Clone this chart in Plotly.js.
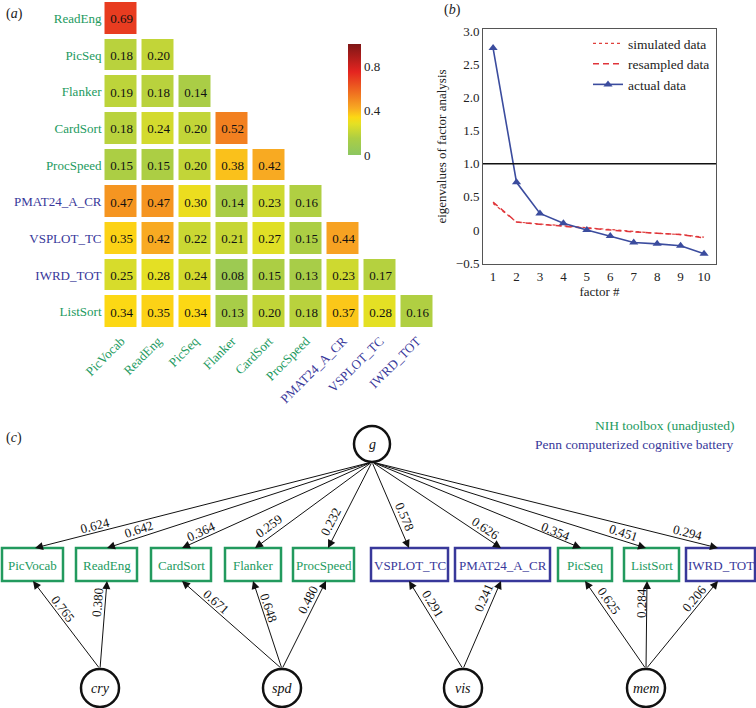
<!DOCTYPE html>
<html><head><meta charset="utf-8">
<script src="https://cdn.plot.ly/plotly-3.0.1.min.js"></script>
<style>html,body{margin:0;padding:0;background:#fff}#chart{width:756px;height:708px}</style>
</head><body><div id="chart"></div>
<script>
// ---------- (a) correlation matrix (lower triangle) ----------
const rowTests = ['ReadEng','PicSeq','Flanker','CardSort','ProcSpeed','PMAT24_A_CR','VSPLOT_TC','IWRD_TOT','ListSort'];
const colTests = ['PicVocab','ReadEng','PicSeq','Flanker','CardSort','ProcSpeed','PMAT24_A_CR','VSPLOT_TC','IWRD_TOT'];
const corrReadEng   = [0.69];
const corrPicSeq    = [0.18, 0.20];
const corrFlanker   = [0.19, 0.18, 0.14];
const corrCardSort  = [0.18, 0.24, 0.20, 0.52];
const corrProcSpeed = [0.15, 0.15, 0.20, 0.38, 0.42];
const corrPMAT      = [0.47, 0.47, 0.30, 0.14, 0.23, 0.16];
const corrVSPLOT    = [0.35, 0.42, 0.22, 0.21, 0.27, 0.15, 0.44];
const corrIWRD      = [0.25, 0.28, 0.24, 0.08, 0.15, 0.13, 0.23, 0.17];
const corrListSort  = [0.34, 0.35, 0.34, 0.13, 0.20, 0.18, 0.37, 0.28, 0.16];
const colorbarTicks = [0, 0.4, 0.8];
const colorbarTickText = ['0', '0.4', '0.8'];
const pennTests = ['PMAT24_A_CR','VSPLOT_TC','IWRD_TOT'];

// ---------- (b) scree plot ----------
const factorNum = [1,2,3,4,5,6,7,8,9,10];
const simulatedEig = [0.40, 0.12, 0.09, 0.06, 0.03, 0.00, -0.03, -0.05, -0.07, -0.11];
const resampledEig = [0.42, 0.12, 0.085, 0.055, 0.025, -0.005, -0.03, -0.05, -0.07, -0.12];
const actualEig    = [2.75, 0.72, 0.25, 0.10, 0.00, -0.09, -0.19, -0.21, -0.24, -0.36];
const kaiserLevel = 1.0;
const screeYTicks = [-0.5, 0, 0.5, 1, 1.5, 2, 2.5, 3];
const screeYTickText = ['\u22120.5','0','0.5','1.0','1.5','2.0','2.5','3.0'];

// ---------- (c) bifactor model ----------
const indicators = ['PicVocab','ReadEng','CardSort','Flanker','ProcSpeed','VSPLOT_TC','PMAT24_A_CR','PicSeq','ListSort','IWRD_TOT'];
const gLoadings = [0.624, 0.642, 0.364, 0.259, 0.232, 0.578, 0.626, 0.354, 0.451, 0.294];
const groupFactors = ['cry','spd','vis','mem'];
const factorOf = [0,0,1,1,1,2,2,3,3,3];
const factorLoadings = [0.765, 0.380, 0.671, 0.648, 0.480, 0.291, 0.241, 0.625, 0.284, 0.206];

// layout of the path diagram (pixel positions)
const boxLeft  = [2, 76, 151, 225, 293, 371, 455, 558, 624, 686];
const boxRight = [63, 137, 211, 281, 354, 448, 550, 612, 679, 755];
const boxTop = 548, boxBottom = 581;
const topPortX = [35, 107, 182, 255, 328, 409, 501, 581, 646, 718];
const bottomPortX = [33, 107, 182, 253, 326, 409, 501, 585, 647, 718];
const gNode = {x: 372, y: 444, r: 18};
const factorNodeX = [100, 282, 463, 646];
const factorNodeY = 688, factorR = 19;
const gLabelPos = [[95,525],[138,529],[201,531],[268,526],[330,522],[405,516],[486,528],[556,531],[623,532],[688,532]];
const fLabelPos = [[63,608],[97,603],[216,601],[269,607],[307,600],[433,603],[483,598],[609,600],[641,603],[694,598]];

const GREEN = '#229a5e', BLUE = '#38389a';
const FONT = '"Liberation Serif", "Times New Roman", Times, serif';
const W = 756, H = 708;
const colorOf = t => pennTests.includes(t) ? BLUE : GREEN;

const rows = [corrReadEng, corrPicSeq, corrFlanker, corrCardSort, corrProcSpeed, corrPMAT, corrVSPLOT, corrIWRD, corrListSort];
const z = rows.map(r => colTests.map((c, i) => i < r.length ? r[i] : null));

const heat = {
  type: 'heatmap', x: colTests, y: rowTests, z: z, xaxis: 'x', yaxis: 'y',
  zmin: 0, zmax: 1, xgap: 5, ygap: 5,
  colorscale: [[0,'#8cc661'],[0.15,'#acce44'],[0.28,'#e4e024'],[0.34,'#fcd814'],[0.42,'#f8aa22'],[0.55,'#f07420'],[0.75,'#e42420'],[1,'#7e1616']],
  texttemplate: '%{z:.2f}', textfont: {family: FONT, size: 13, color: '#111'},
  hoverongaps: false,
  colorbar: {x: 348/W, xanchor: 'left', y: 1 - 99.5/H, yanchor: 'middle',
    thickness: 13, thicknessmode: 'pixels', len: 111, lenmode: 'pixels',
    xpad: 0, ypad: 0, outlinewidth: 0, ticks: '', tickvals: colorbarTicks, ticktext: colorbarTickText,
    tickfont: {family: FONT, size: 13, color: '#222'}}
};

const sim = {type: 'scatter', mode: 'lines', name: 'simulated data', x: factorNum, y: simulatedEig,
  xaxis: 'x2', yaxis: 'y2', line: {color: '#e0403c', width: 1.2, dash: 'dot'}};
const res = {type: 'scatter', mode: 'lines', name: 'resampled data', x: factorNum, y: resampledEig,
  xaxis: 'x2', yaxis: 'y2', line: {color: '#e0343a', width: 1.5, dash: '6px,4px'}};
const act = {type: 'scatter', mode: 'lines+markers', name: 'actual data', x: factorNum, y: actualEig,
  xaxis: 'x2', yaxis: 'y2', line: {color: '#3b4c9e', width: 1.6},
  marker: {symbol: 'triangle-up', size: 8, color: '#3b4c9e'}};

const shapes = [];
const annotations = [];

// Kaiser line
shapes.push({type: 'line', xref: 'x2 domain', yref: 'y2', x0: 0, x1: 1, y0: kaiserLevel, y1: kaiserLevel,
  line: {color: '#111', width: 1.5}});

// panel letters
[['a',14,14],['b',452,10],['c',14,438]].forEach(([t,x,y]) => annotations.push({
  xref: 'x3', yref: 'y3', x: x, y: y, text: '(<i>' + t + '</i>)', showarrow: false,
  font: {family: FONT, size: 14, color: '#222'}}));

// battery key
annotations.push({xref: 'x3', yref: 'y3', x: 736, y: 425, xanchor: 'right', text: 'NIH toolbox (unadjusted)',
  showarrow: false, font: {family: FONT, size: 13.5, color: GREEN}});
annotations.push({xref: 'x3', yref: 'y3', x: 736, y: 444, xanchor: 'right', text: 'Penn computerized cognitive battery',
  showarrow: false, font: {family: FONT, size: 13.5, color: BLUE}});

// nodes
shapes.push({type: 'circle', xref: 'x3', yref: 'y3', x0: gNode.x - gNode.r, x1: gNode.x + gNode.r,
  y0: gNode.y - gNode.r, y1: gNode.y + gNode.r, line: {color: '#111', width: 2.5}});
annotations.push({xref: 'x3', yref: 'y3', x: gNode.x, y: gNode.y, text: '<i>g</i>', showarrow: false,
  font: {family: FONT, size: 14, color: '#111'}});
groupFactors.forEach((f, k) => {
  shapes.push({type: 'circle', xref: 'x3', yref: 'y3', x0: factorNodeX[k] - factorR, x1: factorNodeX[k] + factorR,
    y0: factorNodeY - factorR, y1: factorNodeY + factorR, line: {color: '#111', width: 2.5}});
  annotations.push({xref: 'x3', yref: 'y3', x: factorNodeX[k], y: factorNodeY, text: '<i>' + f + '</i>', showarrow: false,
    font: {family: FONT, size: 14, color: '#111'}});
});

function angleOf(x0, y0, x1, y1) {
  let dx = x1 - x0, dy = y1 - y0;
  if (dx < 0) { dx = -dx; dy = -dy; }
  return Math.atan2(dy, dx) * 180 / Math.PI;
}

indicators.forEach((name, i) => {
  const col = colorOf(name);
  shapes.push({type: 'rect', xref: 'x3', yref: 'y3', x0: boxLeft[i], x1: boxRight[i], y0: boxTop, y1: boxBottom,
    line: {color: col, width: 2.5}, fillcolor: 'rgba(0,0,0,0)'});
  annotations.push({xref: 'x3', yref: 'y3', x: (boxLeft[i] + boxRight[i]) / 2, y: (boxTop + boxBottom) / 2 + 1,
    text: name, showarrow: false, font: {family: FONT, size: 13, color: col}});
  // g -> indicator
  const gx0 = gNode.x, gy0 = gNode.y + gNode.r;
  annotations.push({xref: 'x3', yref: 'y3', axref: 'x3', ayref: 'y3', x: topPortX[i], y: boxTop, ax: gx0, ay: gy0,
    text: '', showarrow: true, arrowhead: 2, arrowsize: 1.6, arrowwidth: 1, arrowcolor: '#111', standoff: 0, startstandoff: 0});
  annotations.push({xref: 'x3', yref: 'y3', x: gLabelPos[i][0], y: gLabelPos[i][1], text: gLoadings[i].toFixed(3),
    showarrow: false, textangle: angleOf(gx0, gy0, topPortX[i], boxTop), font: {family: FONT, size: 13, color: '#111'}});
  // group factor -> indicator
  const k = factorOf[i];
  const fx0 = factorNodeX[k], fy0 = factorNodeY - factorR;
  annotations.push({xref: 'x3', yref: 'y3', axref: 'x3', ayref: 'y3', x: bottomPortX[i], y: boxBottom, ax: fx0, ay: fy0,
    text: '', showarrow: true, arrowhead: 2, arrowsize: 1.6, arrowwidth: 1, arrowcolor: '#111', standoff: 0, startstandoff: 0});
  annotations.push({xref: 'x3', yref: 'y3', x: fLabelPos[i][0], y: fLabelPos[i][1], text: factorLoadings[i].toFixed(3),
    showarrow: false, textangle: angleOf(fx0, fy0, bottomPortX[i], boxBottom), font: {family: FONT, size: 13, color: '#111'}});
});

const tickFont = {family: FONT, size: 13, color: '#222'};
const layout = {
  width: W, height: H, margin: {l: 0, r: 0, t: 0, b: 0},
  paper_bgcolor: '#fff', plot_bgcolor: 'rgba(0,0,0,0)',
  font: {family: FONT, size: 13, color: '#222'},
  showlegend: true,
  legend: {x: 588/W, y: 1 - 28/H, xanchor: 'left', yanchor: 'top', bgcolor: 'rgba(0,0,0,0)',
    font: {family: FONT, size: 13.5, color: '#222'}, itemwidth: 30, tracegroupgap: 0},
  xaxis: {domain: [102.5/W, 435.5/W], anchor: 'y', type: 'category', tickangle: -45, ticks: '',
    showgrid: false, zeroline: false, showline: false, tickvals: colTests,
    ticktext: colTests.map(t => `<span style="color:${colorOf(t)}">${t}</span>`), tickfont: tickFont},
  yaxis: {domain: [1 - 330/H, 1], anchor: 'x', type: 'category', autorange: 'reversed', ticks: '',
    showgrid: false, zeroline: false, showline: false, tickvals: rowTests,
    ticktext: rowTests.map(t => `<span style="color:${colorOf(t)}">${t}</span>`), tickfont: tickFont},
  xaxis2: {domain: [483/W, 716/W], anchor: 'y2', range: [0.57, 10.51], tickvals: factorNum,
    showgrid: false, zeroline: false, showline: true, mirror: true, linecolor: '#555', linewidth: 1, ticks: '',
    tickfont: tickFont, title: {text: 'factor #', font: {family: FONT, size: 13, color: '#222'}, standoff: 2}},
  yaxis2: {domain: [1 - 264/H, 1 - 29/H], anchor: 'x2', range: [-0.515, 3.038], tickvals: screeYTicks, ticktext: screeYTickText,
    showgrid: false, zeroline: false, showline: true, mirror: true, linecolor: '#555', linewidth: 1, ticks: '',
    tickfont: tickFont, title: {text: 'eigenvalues of factor analysis', font: {family: FONT, size: 13, color: '#222'}, standoff: 6}},
  xaxis3: {domain: [0, 1], anchor: 'y3', range: [0, W], visible: false, fixedrange: true},
  yaxis3: {domain: [0, 1], anchor: 'x3', range: [H, 0], visible: false, fixedrange: true},
  shapes: shapes, annotations: annotations
};

Plotly.newPlot('chart', [heat, sim, res, act], layout, {displayModeBar: false, staticPlot: true});
</script></body></html>
